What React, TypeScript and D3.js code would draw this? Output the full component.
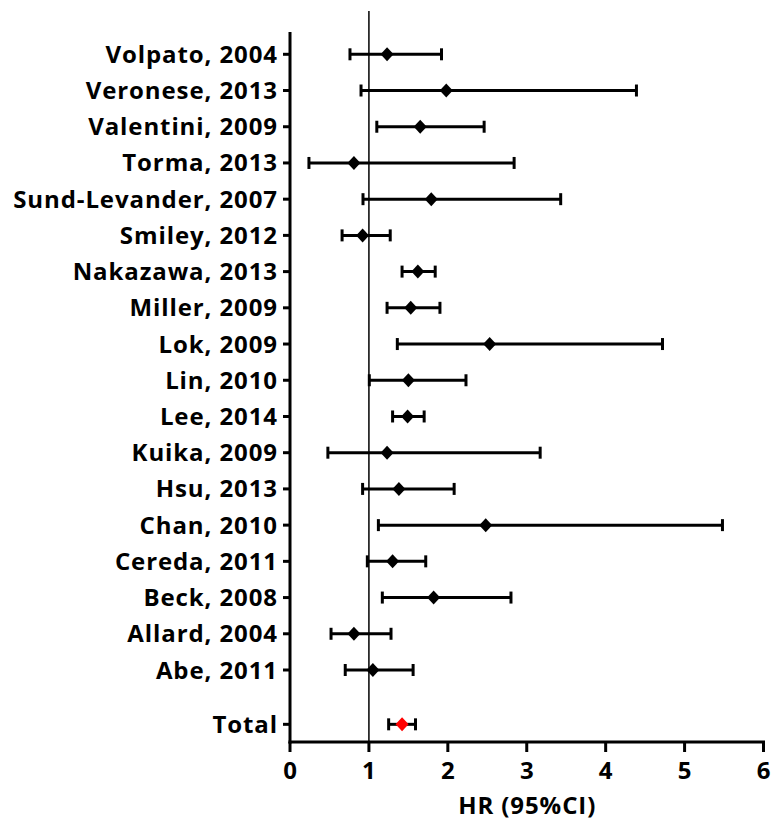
import React from "react";
import * as d3 from "d3";

const studies = [
  "Volpato, 2004",
  "Veronese, 2013",
  "Valentini, 2009",
  "Torma, 2013",
  "Sund-Levander, 2007",
  "Smiley, 2012",
  "Nakazawa, 2013",
  "Miller, 2009",
  "Lok, 2009",
  "Lin, 2010",
  "Lee, 2014",
  "Kuika, 2009",
  "Hsu, 2013",
  "Chan, 2010",
  "Cereda, 2011",
  "Beck, 2008",
  "Allard, 2004",
  "Abe, 2011",
];
const hr = [1.23, 1.98, 1.65, 0.81, 1.79, 0.92, 1.62, 1.53, 2.53, 1.5, 1.49, 1.23, 1.38, 2.48, 1.3, 1.82, 0.81, 1.05];
const lower = [0.76, 0.9, 1.1, 0.24, 0.925, 0.66, 1.42, 1.23, 1.36, 1.005, 1.3, 0.48, 0.92, 1.12, 0.98, 1.17, 0.52, 0.7];
const upper = [1.92, 4.39, 2.46, 2.84, 3.43, 1.27, 1.84, 1.9, 4.72, 2.23, 1.7, 3.17, 2.08, 5.48, 1.72, 2.8, 1.28, 1.56];

const totalLabel = "Total";
const totalHr = 1.42;
const totalLower = 1.25;
const totalUpper = 1.59;

const xTicks = [0, 1, 2, 3, 4, 5, 6];
const xTitle = "HR (95%CI)";

const FONT = "'Open Sans', 'Noto Sans', sans-serif";
const LS = 0.9;

export default function App() {
  const x = d3.scaleLinear().domain([0, 6]).range([290, 763.5]);
  const y = d3.scaleLinear().domain([0, 17]).range([54.3, 670]);
  const totalPos = 18.5;
  const axisY = 742;
  const axisX = x(0);

  const rows = studies.map((s, i) => ({ label: s, hr: hr[i], lo: lower[i], hi: upper[i], pos: i, total: false }));
  rows.push({ label: totalLabel, hr: totalHr, lo: totalLower, hi: totalUpper, pos: totalPos, total: true });

  const diamond = (cx: number, cy: number) =>
    `M${cx},${cy - 7}L${cx + 6.5},${cy}L${cx},${cy + 7}L${cx - 6.5},${cy}Z`;

  return (
    <svg width={772} height={820} style={{ display: "block", position: "absolute", left: 0, top: 0 }}>
      <rect width={772} height={820} fill="#fff" />
      {/* reference line at HR = 1 */}
      <line x1={x(1)} x2={x(1)} y1={11} y2={axisY} stroke="#000" strokeWidth={1.5} />
      {/* y axis */}
      <line x1={axisX} x2={axisX} y1={32} y2={axisY + 1.5} stroke="#000" strokeWidth={3} />
      {/* x axis */}
      <line x1={axisX - 1.5} x2={x(6) + 1.5} y1={axisY} y2={axisY} stroke="#000" strokeWidth={3} />
      {xTicks.map((t) => (
        <g key={t}>
          <line x1={x(t)} x2={x(t)} y1={axisY} y2={axisY + 10} stroke="#000" strokeWidth={3} />
          <text
            x={x(t) + LS / 2}
            y={778.5}
            textAnchor="middle"
            fontFamily={FONT}
            fontWeight={700}
            fontSize={24}
            letterSpacing={LS}
            fill="#000"
          >
            {t}
          </text>
        </g>
      ))}
      <text
        x={(x(0) + x(6)) / 2 + LS / 2}
        y={813.5}
        textAnchor="middle"
        fontFamily={FONT}
        fontWeight={700}
        fontSize={24}
        letterSpacing={LS}
        fill="#000"
      >
        {xTitle}
      </text>
      {rows.map((r) => {
        const cy = y(r.pos);
        return (
          <g key={r.label}>
            <line x1={axisX - 7} x2={axisX} y1={cy} y2={cy} stroke="#000" strokeWidth={3} />
            <text
              x={277 + LS}
              y={cy + 8.5}
              textAnchor="end"
              fontFamily={FONT}
              fontWeight={700}
              fontSize={24}
              letterSpacing={LS}
              fill="#000"
            >
              {r.label}
            </text>
            <line x1={x(r.lo)} x2={x(r.hi)} y1={cy} y2={cy} stroke="#000" strokeWidth={3} />
            <line x1={x(r.lo)} x2={x(r.lo)} y1={cy - 6} y2={cy + 6} stroke="#000" strokeWidth={3} />
            <line x1={x(r.hi)} x2={x(r.hi)} y1={cy - 6} y2={cy + 6} stroke="#000" strokeWidth={3} />
            <path d={diamond(x(r.hr), cy)} fill={r.total ? "#ff0000" : "#000"} />
          </g>
        );
      })}
    </svg>
  );
}
